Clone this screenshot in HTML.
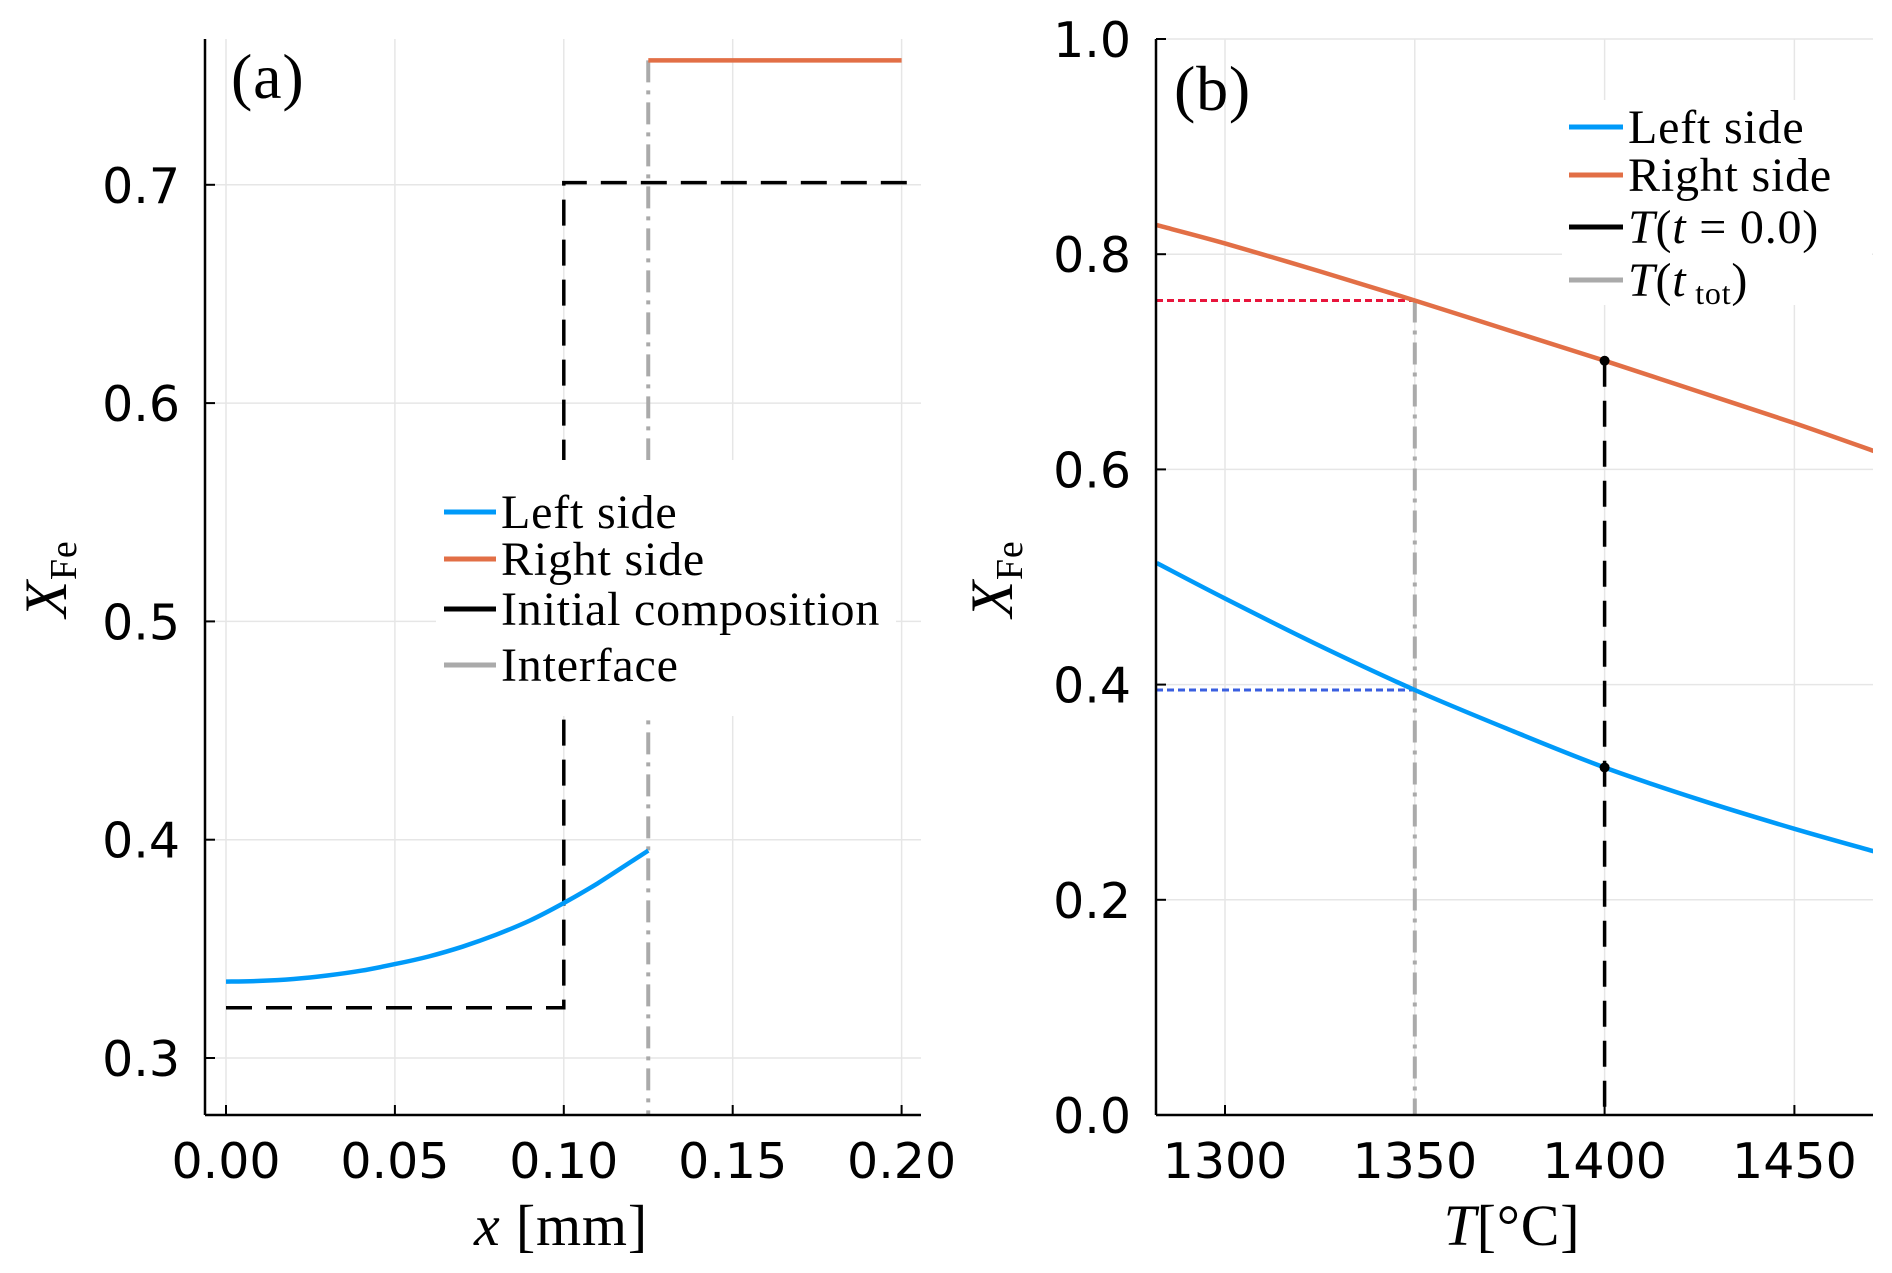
<!DOCTYPE html>
<html><head><meta charset="utf-8"><style>
html,body{margin:0;padding:0;background:#fff;}
svg{display:block;}
.tick{font-family:"DejaVu Sans","Liberation Sans",sans-serif;font-size:49px;fill:#000;}
.ser{font-family:"Liberation Serif","DejaVu Serif",serif;fill:#000;letter-spacing:0.8px;}
</style></head><body>
<svg id="chart" width="1892" height="1273" viewBox="0 0 1892 1273" xmlns="http://www.w3.org/2000/svg"></svg>
<script>
// Panel (a) data
const aXTicks=[0,0.05,0.10,0.15,0.20];
const aXTickLabels=["0.00","0.05","0.10","0.15","0.20"];
const aYTicks=[0.3,0.4,0.5,0.6,0.7];
const aYTickLabels=["0.3","0.4","0.5","0.6","0.7"];
const aLeftX=[0,0.01,0.02,0.03,0.04,0.05,0.06,0.07,0.08,0.09,0.10,0.11,0.12,0.125];
const aLeftY=[0.335,0.3353,0.3362,0.3378,0.340,0.343,0.3465,0.351,0.3565,0.363,0.371,0.380,0.390,0.395];
const aRightX=[0.125,0.2];
const aRightY=[0.757,0.757];
const aInitX=[0,0.1,0.1,0.205];
const aInitY=[0.323,0.323,0.701,0.701];
const aInterfaceX=0.125;
// Panel (b) data
const bXTicks=[1300,1350,1400,1450];
const bXTickLabels=["1300","1350","1400","1450"];
const bYTicks=[0,0.2,0.4,0.6,0.8,1.0];
const bYTickLabels=["0.0","0.2","0.4","0.6","0.8","1.0"];
const bT=[1282,1300,1325,1350,1375,1400,1425,1450,1471];
const bLeft=[0.513,0.480,0.436,0.395,0.358,0.323,0.293,0.266,0.245];
const bRight=[0.827,0.810,0.784,0.757,0.729,0.701,0.672,0.643,0.617];
const bT0=1400, bTtot=1350;
</script>
<script>
const NS="http://www.w3.org/2000/svg";
const svg=document.getElementById('chart');
function el(tag,attrs,parent,text){const e=document.createElementNS(NS,tag);for(const k in attrs)e.setAttribute(k,attrs[k]);if(text!==undefined)e.textContent=text;(parent||svg).appendChild(e);return e;}
function smooth(xs,ys,sx,sy){const P=xs.map((x,i)=>[sx(x),sy(ys[i])]);let d='M'+P[0][0].toFixed(1)+','+P[0][1].toFixed(1);
 for(let i=0;i<P.length-1;i++){const p0=P[i-1]||P[i],p1=P[i],p2=P[i+1],p3=P[i+2]||p2;
  const c1=[p1[0]+(p2[0]-p0[0])/6,p1[1]+(p2[1]-p0[1])/6],c2=[p2[0]-(p3[0]-p1[0])/6,p2[1]-(p3[1]-p1[1])/6];
  d+=' C'+c1.map(v=>v.toFixed(1))+' '+c2.map(v=>v.toFixed(1))+' '+p2.map(v=>v.toFixed(1));}
 return d;}
function poly(xs,ys,sx,sy){return xs.map((x,i)=>sx(x).toFixed(1)+','+sy(ys[i]).toFixed(1)).join(' ');}
// ---- Panel a ----
const ax=v=>226+(v-0)/0.05*168.9;
const ay=v=>1058-(v-0.3)/0.1*218.3;
const ga=el('g',{},svg);
aXTicks.forEach((t,i)=>{el('line',{x1:ax(t),x2:ax(t),y1:39,y2:1115,stroke:'#e6e6e6','stroke-width':1.5},ga);
 el('line',{x1:ax(t),x2:ax(t),y1:1115,y2:1105,stroke:'#000','stroke-width':2},ga);
 const l=el('text',{x:ax(t),y:1178,'text-anchor':'middle',class:'tick'},ga,aXTickLabels[i]);});
aYTicks.forEach((t,i)=>{el('line',{x1:205,x2:921,y1:ay(t),y2:ay(t),stroke:'#e6e6e6','stroke-width':1.5},ga);
 el('line',{x1:205,x2:215,y1:ay(t),y2:ay(t),stroke:'#000','stroke-width':2},ga);
 const l=el('text',{x:180,y:ay(t)+18,'text-anchor':'end',class:'tick'},ga,aYTickLabels[i]);});
let p=el('polyline',{points:poly(aInitX,aInitY,ax,ay),fill:'none',stroke:'#000','stroke-width':3.5,'stroke-dasharray':'26,14'},ga);
p=el('line',{x1:ax(aInterfaceX),x2:ax(aInterfaceX),y1:ay(0.757),y2:1115,stroke:'#aaa','stroke-width':4,'stroke-dasharray':'22,8,4,8'},ga);
p=el('path',{d:smooth(aLeftX,aLeftY,ax,ay),fill:'none',stroke:'#009af9','stroke-width':4.5},ga);
p=el('polyline',{points:poly(aRightX,aRightY,ax,ay),fill:'none',stroke:'#e26f46','stroke-width':4.5},ga);
el('line',{x1:205,x2:205,y1:39,y2:1115,stroke:'#000','stroke-width':2.5},ga);
el('line',{x1:205,x2:921,y1:1115,y2:1115,stroke:'#000','stroke-width':2.5},ga);
// legend a
const la=el('g',{},ga);
el('rect',{x:436,y:460,width:460,height:256,fill:'#fff'},la);
[['Left side','#009af9',512],['Right side','#e26f46',559],['Initial composition','#000',609],['Interface','#aaa',665]].forEach(r=>{
 el('line',{x1:444,x2:496,y1:r[2],y2:r[2],stroke:r[1],'stroke-width':5},la);
 const t=el('text',{x:501,y:r[2]+16,class:'ser','font-size':48},la,r[0]);});
let t=el('text',{x:231,y:98,class:'ser','font-size':64},ga,'(a)');
t=el('text',{x:0,y:0,class:'ser','font-size':60,transform:'translate(66,579) rotate(-90)','text-anchor':'middle'},ga);
t.innerHTML='<tspan font-style="italic">X</tspan><tspan font-size="38" dy="10">Fe</tspan>';
t=el('text',{x:561,y:1245,class:'ser','font-size':58,'text-anchor':'middle'},ga);
t.innerHTML='<tspan font-style="italic">x</tspan> [mm]';
// ---- Panel b ----
const bx=v=>1225+(v-1300)/50*189.8;
const by=v=>1115-v*1076;
const gb=el('g',{},svg);
bXTicks.forEach((tk,i)=>{el('line',{x1:bx(tk),x2:bx(tk),y1:39,y2:1115,stroke:'#e6e6e6','stroke-width':1.5},gb);
 el('line',{x1:bx(tk),x2:bx(tk),y1:1115,y2:1105,stroke:'#000','stroke-width':2},gb);
 const l=el('text',{x:bx(tk),y:1178,'text-anchor':'middle',class:'tick'},gb,bXTickLabels[i]);});
bYTicks.forEach((tk,i)=>{el('line',{x1:1156,x2:1873,y1:by(tk),y2:by(tk),stroke:'#e6e6e6','stroke-width':1.5},gb);
 el('line',{x1:1156,x2:1166,y1:by(tk),y2:by(tk),stroke:'#000','stroke-width':2},gb);
 const l=el('text',{x:1131,y:by(tk)+18,'text-anchor':'end',class:'tick'},gb,bYTickLabels[i]);});
const iTot=bT.indexOf(bTtot), i0=bT.indexOf(bT0);
p=el('line',{x1:1156,x2:bx(bTtot),y1:by(bRight[iTot]),y2:by(bRight[iTot]),stroke:'#e8153c','stroke-width':3,'stroke-dasharray':'7,4'},gb);
p=el('line',{x1:1156,x2:bx(bTtot),y1:by(bLeft[iTot]),y2:by(bLeft[iTot]),stroke:'#3a5fe0','stroke-width':3,'stroke-dasharray':'7,4'},gb);
p=el('line',{x1:bx(bTtot),x2:bx(bTtot),y1:by(bRight[iTot]),y2:1115,stroke:'#aaa','stroke-width':4,'stroke-dasharray':'22,8,4,8'},gb);
p=el('line',{x1:bx(bT0),x2:bx(bT0),y1:by(bRight[i0]),y2:1115,stroke:'#000','stroke-width':3.5,'stroke-dasharray':'26,14'},gb);
p=el('path',{d:smooth(bT,bLeft,bx,by),fill:'none',stroke:'#009af9','stroke-width':4.5},gb);
p=el('path',{d:smooth(bT,bRight,bx,by),fill:'none',stroke:'#e26f46','stroke-width':4.5},gb);
[bLeft[i0],bRight[i0]].forEach(v=>{const c=el('circle',{cx:bx(bT0),cy:by(v),r:5,fill:'#000'},gb);});
el('rect',{x:1873,y:30,width:19,height:1100,fill:'#fff'},gb);
el('line',{x1:1156,x2:1156,y1:39,y2:1115,stroke:'#000','stroke-width':2.5},gb);
el('line',{x1:1156,x2:1873,y1:1115,y2:1115,stroke:'#000','stroke-width':2.5},gb);
const lb=el('g',{},gb);
el('rect',{x:1562,y:100,width:310,height:205,fill:'#fff'},lb);
[['Left side','#009af9',127],['Right side','#e26f46',175],['','#000',227],['','#aaa',280]].forEach((r,i)=>{
 el('line',{x1:1569,x2:1623,y1:r[2],y2:r[2],stroke:r[1],'stroke-width':5},lb);
 const tx=el('text',{x:1628,y:r[2]+16,class:'ser','font-size':48},lb);
 if(i<2)tx.textContent=r[0];
 else if(i==2)tx.innerHTML='<tspan font-style="italic">T</tspan>(<tspan font-style="italic">t</tspan> = 0.0)';
 else tx.innerHTML='<tspan font-style="italic">T</tspan>(<tspan font-style="italic">t</tspan><tspan font-size="32" dy="8"> tot</tspan><tspan dy="-8">)</tspan>';});
t=el('text',{x:1174,y:110,class:'ser','font-size':64},gb,'(b)');
t=el('text',{x:0,y:0,class:'ser','font-size':60,transform:'translate(1012,579) rotate(-90)','text-anchor':'middle'},gb);
t.innerHTML='<tspan font-style="italic">X</tspan><tspan font-size="38" dy="10">Fe</tspan>';
t=el('text',{x:1512,y:1245,class:'ser','font-size':58,'text-anchor':'middle'},gb);
t.innerHTML='<tspan font-style="italic">T</tspan>[°C]';
</script>
</body></html>
